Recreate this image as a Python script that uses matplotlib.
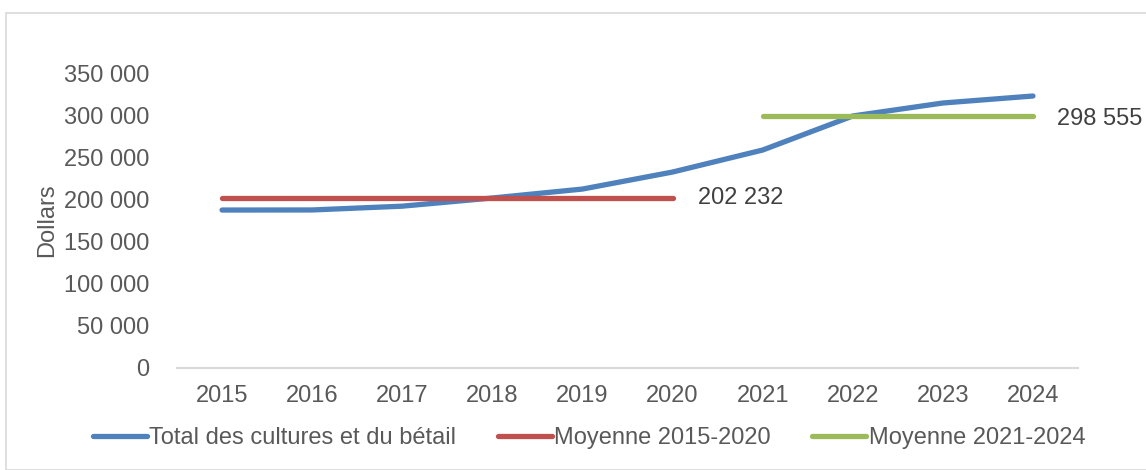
import matplotlib
matplotlib.use("Agg")
import matplotlib.pyplot as plt
from matplotlib.patches import Rectangle
from matplotlib.ticker import FuncFormatter

plt.rcParams["font.family"] = ["Liberation Sans", "DejaVu Sans"]

years = [2015, 2016, 2017, 2018, 2019, 2020, 2021, 2022, 2023, 2024]
total = [187400, 187500, 192000, 201700, 212300, 232500, 258600, 299000, 314400, 322700]
avg_1520_years = [2015, 2016, 2017, 2018, 2019, 2020]
avg_1520 = 202232
avg_2124_years = [2021, 2022, 2023, 2024]
avg_2124 = 298555
yticks = [0, 50000, 100000, 150000, 200000, 250000, 300000, 350000]

TEXT = "#595959"
BLUE = "#4f81bd"
RED = "#c0504d"
GREEN = "#9bbb59"


def fmt(v, _pos=None):
    return f"{int(v):,}".replace(",", " ")


fig = plt.figure(figsize=(11.46, 4.70), dpi=100)
fig.patches.append(Rectangle((6 / 1146, 0.0), 1.2, (470 - 13) / 470, transform=fig.transFigure,
                             fill=False, edgecolor="#d9d9d9", linewidth=1.2))
ax = fig.add_axes([177 / 1146, 102 / 470, 901 / 1146, 295 / 470])

x = list(range(len(years)))
xi = {y: i for i, y in enumerate(years)}

ax.plot(x, total, color=BLUE, linewidth=3.8, solid_capstyle="round", label="Total des cultures et du bétail")
ax.plot([xi[y] for y in avg_1520_years], [avg_1520] * len(avg_1520_years), color=RED, linewidth=3.8,
        solid_capstyle="round", label="Moyenne 2015-2020")
ax.plot([xi[y] for y in avg_2124_years], [avg_2124] * len(avg_2124_years), color=GREEN, linewidth=3.8,
        solid_capstyle="round", label="Moyenne 2021-2024")

ax.annotate(fmt(avg_1520), (xi[avg_1520_years[-1]], avg_1520), xytext=(18, 0), textcoords="offset points",
            va="center", ha="left", fontsize=17, color="#404040")
ax.annotate(fmt(avg_2124), (xi[avg_2124_years[-1]], avg_2124), xytext=(17, -2), textcoords="offset points",
            va="center", ha="left", fontsize=17, color="#404040", annotation_clip=False)

ax.set_xlim(-0.5, len(years) - 0.5)
ax.set_ylim(0, 350000)
ax.set_xticks(x)
ax.set_xticklabels([str(y) for y in years])
ax.set_yticks(yticks)
ax.yaxis.set_major_formatter(FuncFormatter(fmt))
ax.tick_params(axis="both", length=0, labelsize=17, labelcolor=TEXT)
ax.tick_params(axis="x", pad=12)
ax.tick_params(axis="y", pad=20)
for s in ["top", "right", "left"]:
    ax.spines[s].set_visible(False)
ax.spines["bottom"].set_color("#d9d9d9")
ax.spines["bottom"].set_linewidth(1.5)

ax.set_ylabel("Dollars", fontsize=17, color=TEXT, labelpad=4)

leg = fig.legend(loc="center", bbox_to_anchor=(589 / 1146, 1 - 438 / 470), ncol=3, frameon=False,
                 fontsize=17, handlelength=2.3, handletextpad=0.1, columnspacing=1.75)
for t in leg.get_texts():
    t.set_color(TEXT)

fig.savefig("out.png", dpi=100)
